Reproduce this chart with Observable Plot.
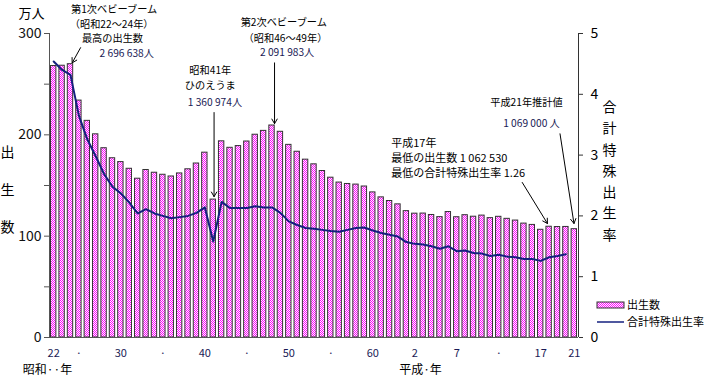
<!DOCTYPE html>
<html><head><meta charset="utf-8">
<script src="https://cdn.jsdelivr.net/npm/d3@7"></script>
<script src="https://cdn.jsdelivr.net/npm/@observablehq/plot@0.6"></script>
<style>body{margin:0;background:#fff;} svg{display:block;}</style>
</head><body><div id="chart"></div>
<script>
// ---- data ----
const years = [1947,1948,1949,1950,1951,1952,1953,1954,1955,1956,1957,1958,1959,1960,1961,1962,1963,1964,1965,1966,1967,1968,1969,1970,1971,1972,1973,1974,1975,1976,1977,1978,1979,1980,1981,1982,1983,1984,1985,1986,1987,1988,1989,1990,1991,1992,1993,1994,1995,1996,1997,1998,1999,2000,2001,2002,2003,2004,2005,2006,2007,2008,2009];
// births, 万人
const births = [267.9,268.2,269.7,233.8,213.8,200.5,186.8,176.9,173.1,166.5,156.7,165.3,162.6,160.6,158.9,161.9,166.0,171.7,182.4,136.1,193.6,187.2,188.9,193.4,200.1,203.9,209.2,203.0,190.1,183.3,175.5,170.9,164.3,157.7,152.9,151.5,150.9,149.0,143.2,138.3,134.7,131.4,124.7,122.2,122.3,120.9,118.8,123.8,118.7,120.7,119.2,120.3,117.8,119.1,117.1,115.4,112.4,111.1,106.3,109.3,109.0,109.1,106.9];
// total fertility rate (to 2008)
const tfr = [4.54,4.40,4.32,3.65,3.26,2.98,2.69,2.48,2.37,2.22,2.04,2.11,2.04,2.00,1.96,1.98,2.00,2.05,2.14,1.58,2.23,2.13,2.13,2.13,2.16,2.14,2.14,2.05,1.91,1.85,1.80,1.79,1.77,1.75,1.74,1.77,1.80,1.81,1.76,1.72,1.69,1.66,1.57,1.54,1.53,1.50,1.46,1.50,1.42,1.43,1.39,1.38,1.34,1.36,1.33,1.32,1.29,1.29,1.26,1.32,1.34,1.37];
const xTickYears = [1947,1950,1955,1960,1965,1970,1975,1980,1985,1990,1995,2000,2005,2009];
const xTickLabels = ["22","·","30","·","40","·","50","·","60","2","7","·","17","21"];
const leftTicks = [0,50,100,150,200,250,300];
const rightTicks = [0,1,2,3,4,5];
const birthsMax = 300, rateMax = 5;

// annotations (data coordinates: year, 万人)
const noteText = ["第1次ベビーブーム","（昭和22～24年）","最高の出生数","2 696 638人",
  "第2次ベビーブーム","（昭和46～49年）","2 091 983人",
  "昭和41年","ひのえうま","1 360 974人",
  "平成21年推計値","1 069 000 人"];
const noteYear = [1954.2,1953.9,1954.0,1955.7, 1974.4,1974.6,1974.8, 1965.65,1965.65,1966.2, 2003.3,2003.9];
const noteValue = [323.2,309,294.6,280, 310.5,295,281, 263.5,248.7,232, 232,211];
const noteColor = ["#000","#000","#000","#1a1a55","#000","#000","#1a1a55","#000","#000","#1a1a55","#000","#1a1a55"];
const note2Text = ["平成17年","最低の出生数 1 062 530","最低の合計特殊出生率 1.26"];
const note2Year = [1987.2,1987.2,1987.2];
const note2Value = [191.5,176.7,162];
const arrowX1 = [1950.2,1973.3,1966.1,2007.3,2002.8];
const arrowY1 = [286,271,222,201,153];
const arrowX2 = [1949.2,1973.3,1966.1,2008.96,2005.8];
const arrowY2 = [271,211,139,112.5,112.5];

const bars = years.map((y,i)=>({year:y, births:births[i]}));
const rates = tfr.map((r,i)=>({year:years[i], rate:r}));
const notes = noteText.map((t,i)=>({t, x:noteYear[i], y:noteValue[i], c:noteColor[i]}));
const notes2 = note2Text.map((t,i)=>({t, x:note2Year[i], y:note2Value[i]}));
const arrows = arrowX1.map((d,i)=>({x1:d, y1:arrowY1[i], x2:arrowX2[i], y2:arrowY2[i]}));
const k = birthsMax/rateMax;
const FONT = "'Noto Sans CJK JP', 'Noto Sans', sans-serif";
const navy = "#14207f";

const chart = Plot.plot({
  width: 705, height: 377,
  marginLeft: 49, marginRight: 127, marginTop: 33, marginBottom: 40,
  style: {fontFamily: FONT, background: "#fff", color: "#000", overflow: "visible"},
  x: {type: "linear", domain: [1946.5, 2009.5]},
  y: {domain: [0, birthsMax]},
  marks: [
    Plot.rectY(bars, {x1: d=>d.year-0.32, x2: d=>d.year+0.32, y: "births", fill: "url(#checker)", stroke: "#333", strokeWidth: 1}),
    Plot.line(rates, {x: "year", y: d=>d.rate*k, stroke: navy, strokeWidth: 2, curve: "linear"}),
    Plot.ruleX([1946.5], {stroke: "#555"}),
    Plot.ruleX([2009.5], {stroke: "#333"}),
    Plot.ruleY([0], {stroke: "#555"}),
    Plot.axisY({ticks: leftTicks, tickSize: 5, tickPadding: 3, tickFormat: d => d % 100 === 0 ? d : "", fontSize: 14, label: null, stroke: "#555", color:"#111"}),
    Plot.axisY({anchor: "right", ticks: rightTicks.map(r=>r*k), tickSize: 4, tickPadding: 8, tickFormat: d => d/k, fontSize: 14, label: null, stroke:"#333"}),
    Plot.axisX({ticks: xTickYears, tickSize: 0, tickPadding: 12, tickFormat: (d) => xTickLabels[xTickYears.indexOf(d)], fontSize: 11, label: null, fill:"#1a1a55"}),
    Plot.text(notes, {x: "x", y: "y", text: "t", fill: "c", fontSize: 10.2}),
    Plot.text(notes2, {x: "x", y: "y", text: "t", textAnchor: "start", fontSize: 11, fill: "#000"}),
    Plot.arrow(arrows, {x1: "x1", y1: "y1", x2: "x2", y2: "y2", stroke: "#000", strokeWidth: 1, headLength: 8}),
    Plot.text(["万人"], {frameAnchor: "top-left", dx: -18, dy: -24.5, fontSize: 13, textAnchor: "middle"}),
    Plot.text(["出\n生\n数"], {frameAnchor: "left", dx: -42, dy: -3, fontSize: 14, lineHeight: 2.7, textAnchor: "middle"}),
    Plot.text(["合\n計\n特\n殊\n出\n生\n率"], {frameAnchor: "right", dx: 31, dy: -16.5, fontSize: 14, lineHeight: 1.52, textAnchor: "middle"}),
    Plot.text(["昭和··年"], {frameAnchor: "bottom-left", dx: -2, dy: 36, fontSize: 12, textAnchor: "middle"}),
    Plot.text(["平成·年"], {frameAnchor: "bottom-left", dx: 371, dy: 36, fontSize: 12, textAnchor: "middle"})
  ]
});

// checker pattern
const svg = d3.select(chart);
const defs = svg.insert("defs", ":first-child");
const pat = defs.append("pattern").attr("id","checker").attr("patternUnits","userSpaceOnUse").attr("width",2).attr("height",2);
pat.append("rect").attr("width",2).attr("height",2).attr("fill","#fff");
pat.append("rect").attr("x",0).attr("y",0).attr("width",1).attr("height",1).attr("fill","#ff00ff");
pat.append("rect").attr("x",1).attr("y",1).attr("width",1).attr("height",1).attr("fill","#ff00ff");

// legend
const lg = svg.append("g").attr("font-family", FONT).attr("font-size", 11).attr("text-anchor", "start");
lg.append("rect").attr("x",597).attr("y",302).attr("width",27).attr("height",6).attr("fill","url(#checker)").attr("stroke","#333");
lg.append("text").attr("x",627).attr("y",305).attr("dy","0.35em").text("出生数");
lg.append("line").attr("x1",597).attr("x2",624).attr("y1",322).attr("y2",322).attr("stroke",navy).attr("stroke-width",1.5);
lg.append("text").attr("x",627).attr("y",322).attr("dy","0.35em").text("合計特殊出生率");

document.getElementById("chart").append(chart);
</script>
</body></html>
